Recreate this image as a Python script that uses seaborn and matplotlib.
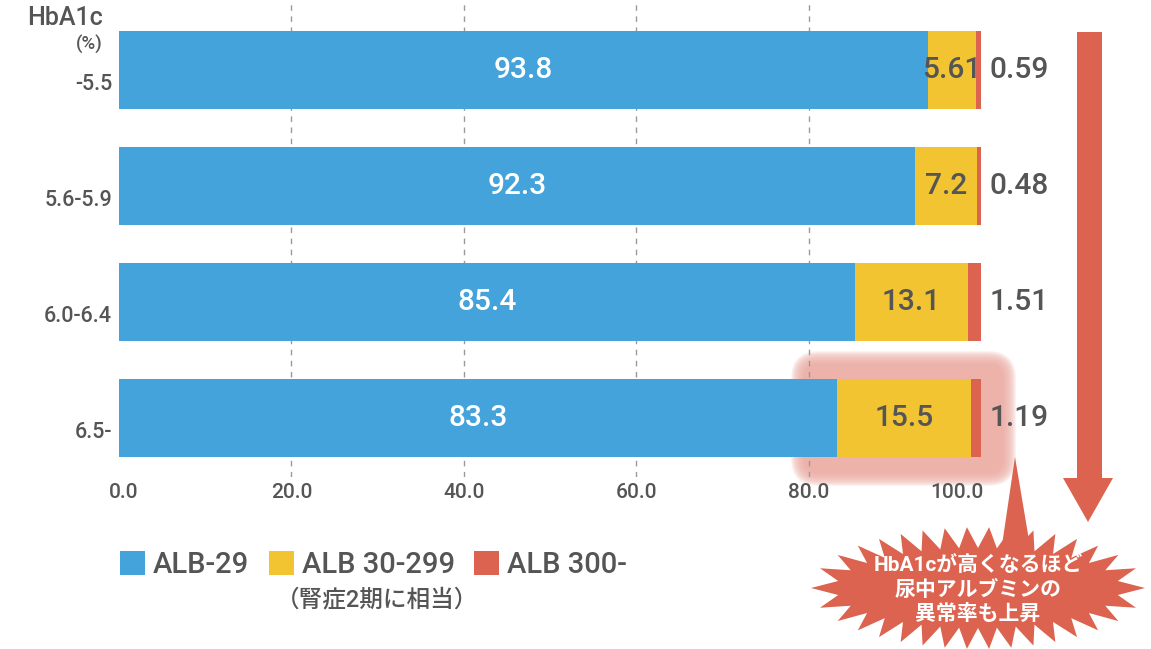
import numpy as np
import pandas as pd
import matplotlib
matplotlib.use("Agg")
import matplotlib.pyplot as plt
import seaborn as sns
from matplotlib.patches import FancyBboxPatch, Polygon, Patch
from matplotlib.transforms import ScaledTranslation

# ---------------- data ----------------
categories = ["-5.5", "5.6-5.9", "6.0-6.4", "6.5-"]
alb_29 = [93.8, 92.3, 85.4, 83.3]
alb_30_299 = [5.61, 7.2, 13.1, 15.5]
alb_300 = [0.59, 0.48, 1.51, 1.19]
x_ticks = [0, 20, 40, 60, 80, 100]
x_tick_labels = ["0.0", "20.0", "40.0", "60.0", "80.0", "100.0"]
series_names = ["ALB-29", "ALB 30-299", "ALB 300-"]
axis_title = "HbA1c"
axis_unit = "(%)"
note = "（腎症2期に相当）"
callout = "HbA1cが高くなるほど\n尿中アルブミンの\n異常率も上昇"

BLUE = "#45A3DB"
YELLOW = "#F2C431"
RED = "#DC634F"
TEXT = "#555555"
GLOW = "#EDB2A9"

sns.set_style("white")
plt.rcParams["font.family"] = ["Roboto", "Noto Sans CJK JP", "DejaVu Sans"]
plt.rcParams["font.weight"] = "medium"

W, H = 1151, 649
fig = plt.figure(figsize=(W / 100, H / 100), dpi=100)

# background layer in pixel coordinates (highlight glow)
bg = fig.add_axes([0, 0, 1, 1], zorder=0)
bg.set_xlim(0, W)
bg.set_ylim(H, 0)
bg.axis("off")

core = (803, 363, 1004, 474)
for k in range(12, 0, -1):
    bg.add_patch(FancyBboxPatch((core[0] - k, core[1] - k), core[2] - core[0] + 2 * k,
                                core[3] - core[1] + 2 * k,
                                boxstyle=f"round,pad=0,rounding_size={16 + k}",
                                facecolor=GLOW, edgecolor="none", alpha=0.16))
bg.add_patch(FancyBboxPatch((core[0], core[1]), core[2] - core[0], core[3] - core[1],
                            boxstyle="round,pad=0,rounding_size=16",
                            facecolor=GLOW, edgecolor="none"))

# main chart
ax = fig.add_axes([119 / W, 1 - 477 / H, (981 - 119) / W, 477 / H], zorder=1)
ax.patch.set_alpha(0)

df = pd.DataFrame({"HbA1c": categories, "alb_29": alb_29,
                   "alb_30_299": alb_30_299, "alb_300": alb_300})
left_yellow = np.array(alb_29)
left_red = left_yellow + np.array(alb_30_299)
common = dict(y="HbA1c", orient="y", width=0.672, errorbar=None, ax=ax,
              saturation=1, linewidth=0)
sns.barplot(data=df, x="alb_29", color=BLUE, **common)
sns.barplot(data=df, x="alb_30_299", color=YELLOW, left=left_yellow, **common)
sns.barplot(data=df, x="alb_300", color=RED, left=left_red, **common)

ax.set_xlim(0, 100)
ax.set_ylim(3 + 59 / 116, -70 / 116)
ax.set_xlabel("")
ax.set_ylabel("")
ax.set_xticks(x_ticks, x_tick_labels)
ax.set_axisbelow(True)
ax.grid(axis="x", color="#9a9a9a", linestyle=(0, (4, 4)), linewidth=1)
ax.grid(axis="y", visible=False)
gl = ax.xaxis.get_gridlines()
gl[0].set_visible(False)
gl[-1].set_visible(False)
for s in ax.spines.values():
    s.set_visible(False)
ax.tick_params(axis="x", length=0, labelsize=15, labelcolor=TEXT, pad=4)
ax.tick_params(axis="y", length=0, labelsize=15.5, labelcolor=TEXT, pad=5)

xl = ax.get_xticklabels()
xl[0].set_transform(xl[0].get_transform() + ScaledTranslation(5 / 100, 0, fig.dpi_scale_trans))
xl[-1].set_transform(xl[-1].get_transform() + ScaledTranslation(-24 / 100, 0, fig.dpi_scale_trans))
for lab in ax.get_yticklabels():
    lab.set_transform(lab.get_transform() + ScaledTranslation(0, -12 / 100, fig.dpi_scale_trans))

ax.bar_label(ax.containers[0], labels=[str(v) for v in alb_29], label_type="center",
             color="white", fontsize=21.5)
ax.bar_label(ax.containers[1], labels=[str(v) for v in alb_30_299], label_type="center",
             color=TEXT, fontsize=21.5)
ax.bar_label(ax.containers[2], labels=[str(v) for v in alb_300], label_type="edge",
             padding=6, color=TEXT, fontsize=21.5)

fig.text(103 / W, 1 - 18 / H, axis_title, ha="right", va="center", fontsize=18, color=TEXT)
fig.text(103 / W, 1 - 44 / H, axis_unit, ha="right", va="center", fontsize=13.5, color=TEXT)

handles = [Patch(facecolor=c, edgecolor="none") for c in (BLUE, YELLOW, RED)]
fig.legend(handles=handles, labels=series_names, loc="center left",
           bbox_to_anchor=(120 / W, 1 - 565 / H), ncol=3, frameon=False, fontsize=21,
           handlelength=0.86, handleheight=0.86, handletextpad=0.27, columnspacing=0.67,
           borderpad=0, borderaxespad=0, labelcolor=TEXT)
fig.text(377 / W, 1 - 600 / H, note, ha="center", va="center", fontsize=17, color=TEXT)

# foreground: arrow and starburst callout
fg = fig.add_axes([0, 0, 1, 1], zorder=2)
fg.set_xlim(0, W)
fg.set_ylim(H, 0)
fg.axis("off")

fg.add_patch(Polygon([(1077, 32), (1102, 32), (1102, 478), (1113, 478), (1088, 522),
                      (1063, 478), (1077, 478)], closed=True, facecolor=RED, edgecolor="none"))

cx, cy = 978, 588
a_out, b_out, a_in, b_in = 167, 61, 142, 40
t = np.linspace(0, 2 * np.pi, 2000)
ex, ey = a_out * np.cos(t), b_out * np.sin(t)
seg = np.hypot(np.diff(ex), np.diff(ey))
cum = np.concatenate([[0], np.cumsum(seg)])
n_sp = 34
targets = np.linspace(0, cum[-1], 2 * n_sp, endpoint=False)
tt = np.interp(targets, cum, t)
pts = []
for i, ang in enumerate(tt):
    if i % 2 == 0:
        pts.append((cx + a_out * np.cos(ang), cy + b_out * np.sin(ang)))
    else:
        pts.append((cx + a_in * np.cos(ang), cy + b_in * np.sin(ang)))
fg.add_patch(Polygon(pts, closed=True, facecolor=RED, edgecolor="none"))
fg.add_patch(Polygon([(1001, 552), (1015, 457), (1031, 552)], closed=True,
                     facecolor=RED, edgecolor="none"))
fg.text(cx, 590, callout, ha="center", va="center", color="white", fontsize=15,
        fontweight="bold", linespacing=1.25)

fig.savefig("out.png", dpi=100)
